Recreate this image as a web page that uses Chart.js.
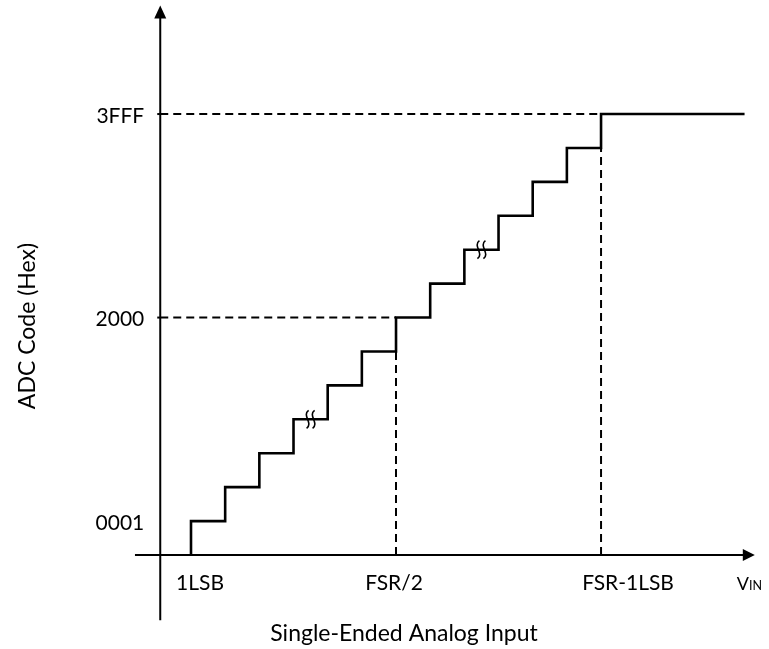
<!DOCTYPE html>
<html><head><meta charset="utf-8">
<script src="https://cdn.jsdelivr.net/npm/chart.js@4/dist/chart.umd.min.js"></script>
<style>html,body{margin:0;padding:0;background:#fff}#wrap{width:769px;height:649px;position:relative}</style>
</head><body><div id="wrap"><canvas id="c"></canvas></div>
<script>
// ---- data (in LSB / code-step units) ----
const stepX = [1,2,3,4,5,6,7,8,9,10,11,12,13];        // input value where each code transition happens
const codeLevels = [1,2,3,4,5,6,7,8,9,10,11,12,13];   // output code level after each transition
const lastX = 17.2;                                    // end of the final (3FFF) plateau
const yTickValues = [1,7,13];
const yTickLabels = ['0001','2000','3FFF'];
const xTickValues = [1,7,13];
const xTickLabels = ['1LSB','FSR/2','FSR-1LSB'];
const breakX = [4.5, 9.5];      // break marks on the staircase
const breakY = [4, 9];
const axisOriginX = 0.1;
const axisXStart = -0.64, axisXEnd = 17.5;
const axisYStart = -1.92, axisYEnd = 16.2;
const midX = 7, midCode = 7, fullX = 13, fullCode = 13;

// ---- build datasets ----
const stairPts = [{x: stepX[0], y: 0}];
for (let i = 0; i < codeLevels.length; i++) {
  stairPts.push({x: i + 1 < stepX.length ? stepX[i + 1] : lastX, y: codeLevels[i]});
}
const dashStyle = {borderColor:'#000', borderWidth:2, borderDash:[8,5], pointRadius:0, showLine:true, fill:false};
const datasets = [
  {data: stairPts, borderColor:'#000', borderWidth:2.6, stepped:'after', pointRadius:0, showLine:true, fill:false, order:0},
  Object.assign({data:[{x:axisOriginX,y:fullCode},{x:fullX,y:fullCode}]}, dashStyle),
  Object.assign({data:[{x:axisOriginX,y:midCode},{x:midX,y:midCode}]}, dashStyle),
  Object.assign({data:[{x:midX,y:0},{x:midX,y:midCode-1}]}, dashStyle),
  Object.assign({data:[{x:fullX,y:0},{x:fullX,y:fullCode-1}]}, dashStyle)
];

const FONT = 'Lato';
const diagramPlugin = {
  id: 'diagram',
  afterDatasetsDraw(chart) {
    const ctx = chart.ctx, xs = chart.scales.x, ys = chart.scales.y;
    const X = v => xs.getPixelForValue(v), Y = v => ys.getPixelForValue(v);
    ctx.save();
    ctx.strokeStyle = '#000'; ctx.fillStyle = '#000'; ctx.lineWidth = 2; ctx.setLineDash([]);
    // y axis with arrow
    const ax = X(axisOriginX), ay = Y(0);
    const yTop = Y(axisYEnd);
    ctx.beginPath(); ctx.moveTo(ax, Y(axisYStart)); ctx.lineTo(ax, yTop + 10); ctx.stroke();
    ctx.beginPath(); ctx.moveTo(ax, yTop); ctx.lineTo(ax - 6, yTop + 13); ctx.lineTo(ax + 6, yTop + 13); ctx.closePath(); ctx.fill();
    // x axis with arrow
    const xEnd = X(axisXEnd);
    ctx.beginPath(); ctx.moveTo(X(axisXStart), ay); ctx.lineTo(xEnd - 10, ay); ctx.stroke();
    ctx.beginPath(); ctx.moveTo(xEnd, ay); ctx.lineTo(xEnd - 12, ay - 6); ctx.lineTo(xEnd - 12, ay + 6); ctx.closePath(); ctx.fill();
    // small ticks on y axis
    [midCode, fullCode].forEach(k => { ctx.beginPath(); ctx.moveTo(ax - 3, Y(k)); ctx.lineTo(ax, Y(k)); ctx.stroke(); });
    // break marks
    ctx.lineWidth = 1.6;
    for (let i = 0; i < breakX.length; i++) {
      const cx = X(breakX[i]), cy = Y(breakY[i]);
      [-3, 3].forEach(d => {
        const x = cx + d;
        ctx.beginPath();
        ctx.moveTo(x + 1, cy - 9);
        ctx.bezierCurveTo(x - 6, cy - 4, x + 6, cy + 4, x - 1, cy + 9);
        ctx.stroke();
      });
    }
    // tick labels
    ctx.font = '21px ' + FONT; ctx.textBaseline = 'middle';
    ctx.textAlign = 'right';
    yTickValues.forEach((v, i) => ctx.fillText(yTickLabels[i], ax - 16, Y(v) + 2));
    const xOff = [9, -2, 27];
    ctx.textAlign = 'center';
    xTickValues.forEach((v, i) => ctx.fillText(xTickLabels[i], X(v) + xOff[i], ay + 28));
    // V_IN
    ctx.textAlign = 'left'; ctx.textBaseline = 'alphabetic';
    ctx.font = '18px ' + FONT;
    const vx = X(axisXEnd) - 18, vy = ay + 35;
    ctx.fillText('V', vx, vy);
    const vw = ctx.measureText('V').width;
    ctx.font = '12.5px ' + FONT;
    ctx.fillText('IN', vx + vw, vy);
    // axis titles
    ctx.font = '23px ' + FONT; ctx.textAlign = 'center'; ctx.textBaseline = 'middle';
    ctx.fillText('Single-Ended Analog Input', 404, 634);
    ctx.translate(28, 326); ctx.rotate(-Math.PI / 2);
    ctx.fillText('ADC Code (Hex)', 0, 0);
    ctx.restore();
  }
};

function draw() {
  new Chart(document.getElementById('c'), {
    type: 'scatter',
    data: {datasets},
    options: {
      responsive: true, maintainAspectRatio: false, animation: false,
      layout: {padding: {left: 122.66, right: 3.94, top: 5.5, bottom: 9.2}},
      plugins: {legend: {display: false}, tooltip: {enabled: false}},
      scales: {
        x: {type: 'linear', min: -1, max: 17.8, display: false},
        y: {type: 'linear', min: -2.5, max: 16.2, display: false}
      }
    },
    plugins: [diagramPlugin]
  });
}
if (document.fonts && document.fonts.load) {
  Promise.all([document.fonts.load('21px Lato'), document.fonts.load('12px Lato')]).then(draw, draw);
} else draw();
</script></body></html>
